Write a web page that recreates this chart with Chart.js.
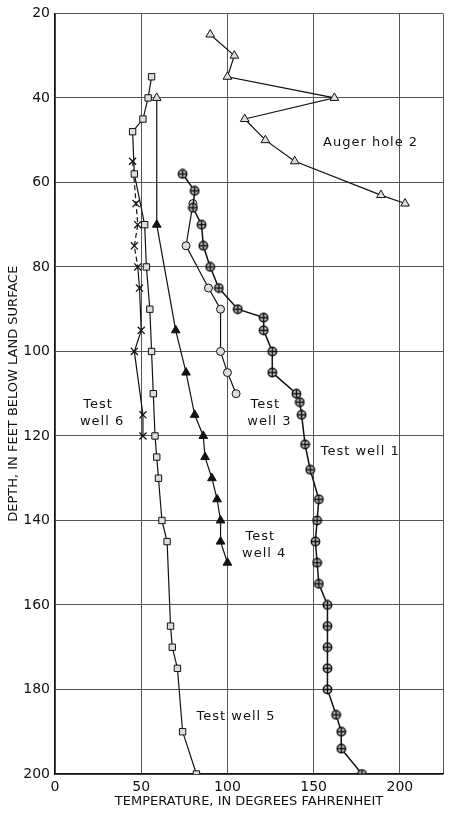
<!DOCTYPE html>
<html>
<head>
<meta charset="utf-8">
<script src="https://cdn.jsdelivr.net/npm/chart.js@4"></script>
<style>
  html, body { margin: 0; padding: 0; background: #fff; }
  canvas { display: block; }
</style>
</head>
<body>
<canvas id="tempChart" width="450" height="814"></canvas>
<script>
// temperature (deg F) and depth (ft)
const augerTemp = [90, 104, 100, 162, 110, 122, 139, 189, 203];
const augerDepth = [25, 30, 35, 40, 45, 50, 55, 63, 65];

const well1Temp = [74, 81, 80, 85, 86, 90, 95, 106, 121, 121, 126, 126, 140, 142, 143, 145, 148, 153, 152, 151, 152, 153, 158, 158, 158, 158, 158, 163, 166, 166, 178];
const well1Depth = [58, 62, 66, 70, 75, 80, 85, 90, 92, 95, 100, 105, 110, 112, 115, 122, 128, 135, 140, 145, 150, 155, 160, 165, 170, 175, 180, 186, 190, 194, 200];

const well3Temp = [80, 76, 89, 96, 96, 100, 105];
const well3Depth = [65, 75, 85, 90, 100, 105, 110];

const well4Temp = [59, 59, 70, 76, 81, 86, 87, 91, 94, 96, 96, 100];
const well4Depth = [40, 70, 95, 105, 115, 120, 125, 130, 135, 140, 145, 150];

const well5Temp = [56, 54, 51, 45, 46, 52, 53, 55, 56, 57, 58, 59, 60, 62, 65, 67, 68, 71, 74, 82];
const well5Depth = [35, 40, 45, 48, 58, 70, 80, 90, 100, 110, 120, 125, 130, 140, 145, 165, 170, 175, 190, 200];

const well6Temp = [45, 47, 48, 46, 48, 49, 50, 46, 51, 51];
const well6Depth = [55, 65, 70, 75, 80, 85, 95, 100, 115, 120];

const xTicks = [0, 50, 100, 150, 200];

// curve labels: [text lines, temperature, depth]
const curveLabels = [
    [['Auger hole 2'], 183, 50.6],
    [['Test', 'well 6'], 25, 112.7],
    [['Test', 'well 3'], 122, 112.7],
    [['Test well 1'], 177, 123.8],
    [['Test', 'well 4'], 119, 143.8],
    [['Test well 5'], 105, 186.4]
];

function toPoints(xs, ys) {
    return xs.map((x, i) => ({ x: x, y: ys[i] }));
}

// circle with a cross through it, for test well 1
function crossedCircle() {
    const c = document.createElement('canvas');
    c.width = 11;
    c.height = 11;
    const g = c.getContext('2d');
    g.beginPath();
    g.arc(5.5, 5.5, 4.2, 0, Math.PI * 2);
    g.fillStyle = '#ccc';
    g.fill();
    g.lineWidth = 1.5;
    g.strokeStyle = '#111';
    g.stroke();
    g.beginPath();
    g.moveTo(1, 5.5); g.lineTo(10, 5.5);
    g.moveTo(5.5, 1); g.lineTo(5.5, 10);
    g.lineWidth = 1.5;
    g.stroke();
    return c;
}

const labelPlugin = {
    id: 'curveLabels',
    afterDatasetsDraw(chart) {
        const ctx = chart.ctx;
        const xs = chart.scales.x;
        const ys = chart.scales.y;
        ctx.save();
        ctx.fillStyle = '#111';
        ctx.font = '13px "DejaVu Sans", sans-serif';
        if ('letterSpacing' in ctx) ctx.letterSpacing = '1px';
        ctx.textAlign = 'center';
        ctx.textBaseline = 'middle';
        curveLabels.forEach(([lines, t, d]) => {
            const px = xs.getPixelForValue(t);
            const py = ys.getPixelForValue(d);
            lines.forEach((line, i) => {
                ctx.fillText(line, px + i * 4, py + i * 17);
            });
        });
        ctx.restore();
    }
};

const base = {
    showLine: true,
    borderColor: '#111',
    borderWidth: 1.2,
    pointBorderColor: '#111',
    pointBorderWidth: 1,
    pointRadius: 4,
    tension: 0
};

new Chart(document.getElementById('tempChart'), {
    type: 'scatter',
    data: {
        datasets: [
            Object.assign({}, base, {
                label: 'Auger hole 2',
                data: toPoints(augerTemp, augerDepth),
                pointStyle: 'triangle',
                pointRadius: 5,
                pointBackgroundColor: '#ddd'
            }),
            Object.assign({}, base, {
                label: 'Test well 1',
                data: toPoints(well1Temp, well1Depth),
                pointStyle: crossedCircle(),
                borderWidth: 1.5
            }),
            Object.assign({}, base, {
                label: 'Test well 3',
                data: toPoints(well3Temp, well3Depth),
                pointStyle: 'circle',
                pointBackgroundColor: '#ddd'
            }),
            Object.assign({}, base, {
                label: 'Test well 4',
                data: toPoints(well4Temp, well4Depth),
                pointStyle: 'triangle',
                pointRadius: 5,
                pointBackgroundColor: well4Temp.map((t, i) => i === 0 ? '#ddd' : '#111')
            }),
            Object.assign({}, base, {
                label: 'Test well 5',
                data: toPoints(well5Temp, well5Depth),
                pointStyle: 'rect',
                pointRadius: 4.5,
                pointBackgroundColor: '#ddd'
            }),
            Object.assign({}, base, {
                label: 'Test well 6',
                data: toPoints(well6Temp, well6Depth),
                pointStyle: 'crossRot',
                pointRadius: 5,
                pointBorderWidth: 1.3,
                // upper part of the curve is drawn dashed
                segment: {
                    borderDash: c => (c.p1.parsed.y <= 80 ? [5, 3] : undefined)
                }
            })
        ]
    },
    options: {
        responsive: false,
        animation: false,
        layout: { padding: { top: 9, right: 7, left: 0, bottom: 0 } },
        plugins: {
            legend: { display: false },
            tooltip: { enabled: false }
        },
        scales: {
            x: {
                type: 'linear',
                min: 0,
                max: 225,
                afterBuildTicks: scale => {
                    scale.ticks = xTicks.concat([225]).map(v => ({ value: v }));
                },
                ticks: {
                    color: '#111',
                    font: { family: '"DejaVu Sans", sans-serif', size: 14 },
                    padding: 5,
                    maxRotation: 0,
                    callback: v => (xTicks.includes(v) ? String(v) : '')
                },
                grid: { color: '#555', lineWidth: 1, drawTicks: false },
                border: { color: '#111', width: 1.2 },
                title: {
                    display: true,
                    text: 'TEMPERATURE, IN DEGREES FAHRENHEIT',
                    color: '#111',
                    font: { family: '"DejaVu Sans", sans-serif', size: 13 },
                    padding: { top: 0, bottom: 5 }
                },
                afterFit: scale => { scale.height = 40; }
            },
            y: {
                type: 'linear',
                reverse: true,
                min: 20,
                max: 200,
                ticks: {
                    stepSize: 20,
                    color: '#111',
                    font: { family: '"DejaVu Sans", sans-serif', size: 14 },
                    padding: 5
                },
                grid: { color: '#555', lineWidth: 1, drawTicks: false },
                border: { color: '#111', width: 1.2 },
                title: {
                    display: true,
                    text: 'DEPTH, IN FEET BELOW LAND SURFACE',
                    color: '#111',
                    font: { family: '"DejaVu Sans", sans-serif', size: 13 },
                    padding: { top: 6, bottom: 0 }
                },
                afterFit: scale => { scale.width = 55; }
            }
        }
    },
    plugins: [labelPlugin]
});
</script>
</body>
</html>
